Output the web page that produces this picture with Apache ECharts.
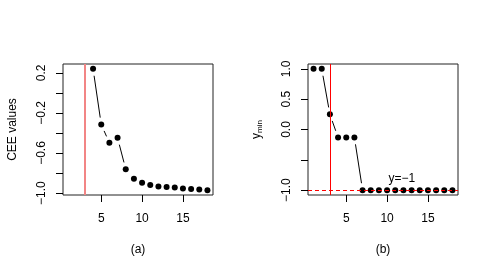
<!DOCTYPE html>
<html><head><meta charset="utf-8">
<script src="https://cdn.jsdelivr.net/npm/echarts@6/dist/echarts.min.js"></script>
<style>html,body{margin:0;padding:0;background:#fff}#c{width:491px;height:274px}</style>
</head><body><div id="c"></div>
<script>
// Panel (a): CEE values
const xA = [4,5,6,7,8,9,10,11,12,13,14,15,16,17,18];
const yA = [0.240,-0.316,-0.498,-0.449,-0.762,-0.856,-0.898,-0.918,-0.935,-0.938,-0.945,-0.955,-0.958,-0.965,-0.971];
// Panel (b): y_min
const xB = [1,2,3,4,5,6,7,8,9,10,11,12,13,14,15,16,17,18];
const yB = [1,1,0.25,-0.13,-0.13,-0.13,-1,-1,-1,-1,-1,-1,-1,-1,-1,-1,-1,-1];
const xTicks = [5,10,15];
const yTicksA = [-1.0,-0.8,-0.6,-0.4,-0.2,0.0,0.2];
const yLabelsA = [-1.0,-0.6,-0.2,0.2];
const yTicksB = [-1.0,-0.5,0.0,0.5,1.0];
const yLabelsB = [-1.0,0.0,0.5,1.0];
const vLineX = 3;
const hLineY = -1;
const noteText = 'y=\u22121';
const noteX = 11.8, noteY = -0.81;

const FONT = 'Liberation Sans';
const GAP = 7;
function pts(xs, ys){ return xs.map((x,i)=>[x, ys[i]]); }
function segs(xs, ys){ const s=[]; for(let i=0;i<xs.length-1;i++) s.push([xs[i],ys[i],xs[i+1],ys[i+1]]); return s; }
function fmt(v){ return (v<0?'\u2212':'') + Math.abs(v).toFixed(1); }
function renderSeg(params, api){
  const p1 = api.coord([api.value(0), api.value(1)]);
  const p2 = api.coord([api.value(2), api.value(3)]);
  const dx=p2[0]-p1[0], dy=p2[1]-p1[1], L=Math.sqrt(dx*dx+dy*dy);
  if (L <= 2*GAP) return null;
  const ux=dx/L, uy=dy/L;
  return {type:'line', shape:{x1:p1[0]+ux*GAP, y1:p1[1]+uy*GAP, x2:p2[0]-ux*GAP, y2:p2[1]-uy*GAP},
    style:{stroke:'#000', lineWidth:1}};
}
function xAxisDef(idx, name){
  return {type:'value', gridIndex:idx, min:0.32, max:18.68,
    axisLine:{show:false, onZero:false}, splitLine:{show:false},
    axisTick:{show:true, length:7, customValues:xTicks, lineStyle:{color:'#000'}},
    axisLabel:{customValues:xTicks, margin:18, fontSize:12, fontFamily:FONT, color:'#000'},
    name:name, nameLocation:'middle', nameGap:49,
    nameTextStyle:{fontSize:12, fontFamily:FONT, color:'#000'}};
}
function yAxisDef(idx, min, max, ticks, labels, name){
  return {type:'value', gridIndex:idx, min:min, max:max,
    axisLine:{show:false, onZero:false}, splitLine:{show:false},
    axisTick:{show:true, length:7, customValues:ticks, lineStyle:{color:'#000'}},
    axisLabel:{customValues:labels, rotate:90, margin:15, fontSize:12, fontFamily:FONT, color:'#000', formatter:fmt},
    name:name, nameLocation:'middle', nameGap:44, nameRotate:90,
    nameTextStyle:{fontSize:12, fontFamily:FONT, color:'#000',
      rich:{m:{fontSize:12, fontFamily:FONT, color:'#000'}, s:{fontSize:8, fontFamily:FONT, color:'#000', padding:[7,0,0,0]}}}};
}
const chart = echarts.init(document.getElementById('c'), null, {renderer:'canvas'});
chart.setOption({
  animation:false,
  backgroundColor:'#fff',
  grid:[
    {left:63, top:64, width:150, height:131, show:true, borderColor:'#222', borderWidth:1, backgroundColor:'transparent'},
    {left:308, top:64, width:150, height:131, show:true, borderColor:'#222', borderWidth:1, backgroundColor:'transparent'}
  ],
  xAxis:[ xAxisDef(0,'(a)'), xAxisDef(1,'(b)') ],
  yAxis:[
    yAxisDef(0, -1.019, 0.288, yTicksA, yLabelsA, 'CEE values'),
    yAxisDef(1, -1.08, 1.08, yTicksB, yLabelsB, '{m|y}{s|min}')
  ],
  series:[
    {type:'custom', xAxisIndex:0, yAxisIndex:0, renderItem:renderSeg, data:segs(xA,yA), encode:{x:[0,2], y:[1,3]}, silent:true, z:2,
     markLine:{silent:true, symbol:'none', label:{show:false}, lineStyle:{color:'#f28585', width:2, type:'solid'}, data:[{xAxis:vLineX}]}},
    {type:'scatter', xAxisIndex:0, yAxisIndex:0, data:pts(xA,yA), symbolSize:6, itemStyle:{color:'#000', opacity:1}, z:3},
    {type:'custom', xAxisIndex:1, yAxisIndex:1, renderItem:renderSeg, data:segs(xB,yB), encode:{x:[0,2], y:[1,3]}, silent:true, z:2,
     markLine:{silent:true, symbol:'none', label:{show:false}, data:[
       {xAxis:vLineX, lineStyle:{color:'#ff0000', width:1, type:'solid'}},
       {yAxis:hLineY, lineStyle:{color:'#ff0000', width:1, type:[4,3]}}
     ]}},
    {type:'scatter', xAxisIndex:1, yAxisIndex:1, data:pts(xB,yB), symbolSize:6, itemStyle:{color:'#000', opacity:1}, z:3,
     markPoint:{symbol:'circle', symbolSize:0, silent:true, data:[{coord:[noteX,noteY], value:noteText}],
       label:{show:true, position:'inside', formatter:noteText, fontSize:12, fontFamily:FONT, color:'#000'}}}
  ]
});
</script></body></html>
